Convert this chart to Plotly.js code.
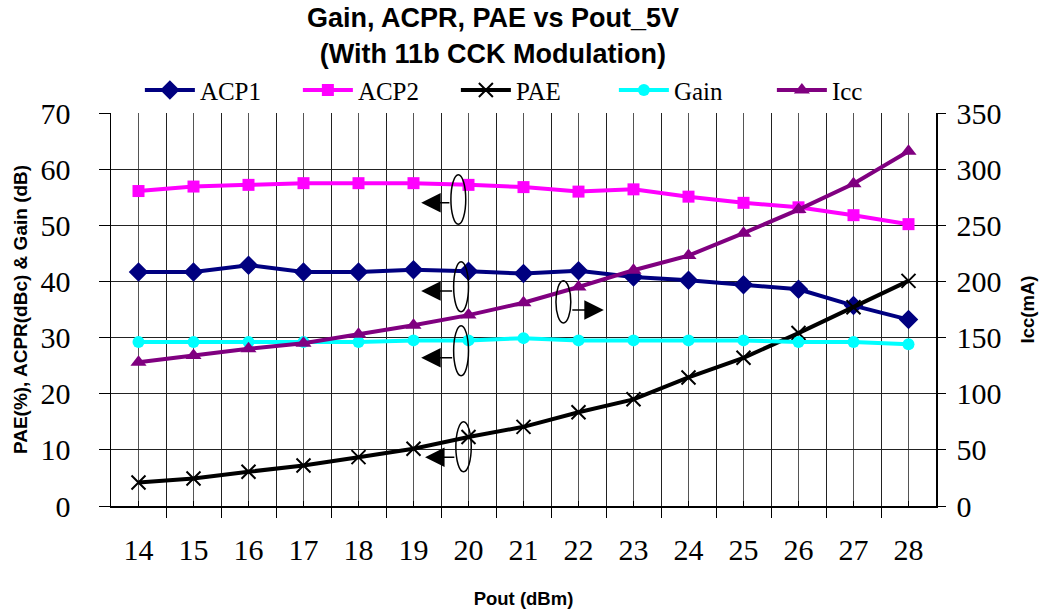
<!DOCTYPE html>
<html>
<head>
<meta charset="utf-8">
<script src="https://cdn.plot.ly/plotly-3.0.1.min.js"></script>
<style>html,body{margin:0;padding:0;background:#fff;}#chart{width:1047px;height:611px;}</style>
</head>
<body>
<div id="chart"></div>
<script>
// ---- data ----
var pout = [14, 15, 16, 17, 18, 19, 20, 21, 22, 23, 24, 25, 26, 27, 28];
var acp1 = [41.7, 41.7, 42.9, 41.7, 41.7, 42.1, 41.8, 41.4, 41.9, 40.8, 40.2, 39.4, 38.6, 35.7, 33.2];
var acp2 = [56.1, 56.9, 57.2, 57.5, 57.5, 57.5, 57.2, 56.8, 56.0, 56.4, 55.1, 54.0, 53.2, 51.8, 50.2];
var pae  = [4.2, 4.9, 6.1, 7.2, 8.7, 10.2, 12.3, 14.1, 16.7, 19.0, 22.9, 26.4, 30.8, 35.4, 40.1];
var gain = [29.2, 29.2, 29.2, 29.2, 29.2, 29.5, 29.5, 29.9, 29.5, 29.5, 29.5, 29.5, 29.2, 29.2, 28.8];
var icc  = [128, 134, 140, 145, 153, 161, 170, 181, 195, 210, 223, 243, 264, 287, 316];
var seriesNames = ['ACP1', 'ACP2', 'PAE', 'Gain', 'Icc'];
var xTickLabels = ['14','15','16','17','18','19','20','21','22','23','24','25','26','27','28'];
var boundaryTicks = [13.5,14.5,15.5,16.5,17.5,18.5,19.5,20.5,21.5,22.5,23.5,24.5,25.5,26.5,27.5,28.5];

var serif = 'Liberation Serif, Times New Roman, serif';
var sans = 'Liberation Sans, Arial, sans-serif';

var traces = [
  {x: pout, y: acp1, name: seriesNames[0], type: 'scatter', mode: 'lines+markers',
   line: {color: '#000080', width: 4}, marker: {symbol: 'diamond', size: 15, color: '#000080'}},
  {x: pout, y: acp2, name: seriesNames[1], type: 'scatter', mode: 'lines+markers',
   line: {color: '#FF00FF', width: 4}, marker: {symbol: 'square', size: 12, color: '#FF00FF'}},
  {x: pout, y: pae, name: seriesNames[2], type: 'scatter', mode: 'lines+markers',
   line: {color: '#000000', width: 4}, marker: {symbol: 'x-thin', size: 14, color: '#000000', line: {width: 2, color: '#000000'}}},
  {x: pout, y: gain, name: seriesNames[3], type: 'scatter', mode: 'lines+markers',
   line: {color: '#00FFFF', width: 4}, marker: {symbol: 'circle', size: 12, color: '#00FFFF'}},
  {x: pout, y: icc, name: seriesNames[4], type: 'scatter', mode: 'lines+markers', yaxis: 'y2',
   line: {color: '#800080', width: 4}, marker: {symbol: 'triangle-up', size: 14, color: '#800080'}}
];

// annotation ellipses (style/position only)
var ellipses = [
  {x0: 19.68, x1: 19.95, y0: 50.2, y1: 59.0, yref: 'y'},
  {x0: 19.73, x1: 20.0, y0: 34.6, y1: 43.5, yref: 'y'},
  {x0: 19.73, x1: 20.0, y0: 23.2, y1: 32.1, yref: 'y'},
  {x0: 19.77, x1: 20.05, y0: 6.1, y1: 15.0, yref: 'y'},
  {x0: 21.59, x1: 21.86, y0: 163, y1: 200.5, yref: 'y2'}
];
var shapes = ellipses.map(function (e) {
  return {type: 'circle', xref: 'x', yref: e.yref, x0: e.x0, x1: e.x1, y0: e.y0, y1: e.y1,
          line: {color: '#000', width: 1.5}, fillcolor: 'rgba(0,0,0,0)'};
});
var arrows = [
  {tip: 19.14, tail: 19.68, y: 54.0, yref: 'y'},
  {tip: 19.14, tail: 19.73, y: 38.3, yref: 'y'},
  {tip: 19.14, tail: 19.73, y: 26.4, yref: 'y'},
  {tip: 19.21, tail: 19.77, y: 8.7, yref: 'y'},
  {tip: 22.46, tail: 21.86, y: 174.5, yref: 'y2'}
];
var annotations = arrows.map(function (a) {
  return {x: a.tip, y: a.y, xref: 'x', yref: a.yref, ax: a.tail, ay: a.y, axref: 'x', ayref: a.yref,
          text: '', showarrow: true, arrowhead: 2, arrowsize: 2.6, arrowwidth: 1.5, arrowcolor: '#000'};
});

var layout = {
  width: 1047, height: 611,
  paper_bgcolor: '#fff', plot_bgcolor: '#fff',
  margin: {l: 111, r: 111, t: 113, b: 105},
  showlegend: true,
  title: {
    text: '<b>Gain, ACPR, PAE vs Pout_5V<br>(With 11b CCK Modulation)</b>',
    font: {family: sans, size: 27, color: '#000'},
    x: 0.463, xanchor: 'center', xref: 'paper',
    y: 0.955, yanchor: 'top', yref: 'container'
  },
  legend: {
    orientation: 'h', x: 0.035, xanchor: 'left', y: 1.058, yanchor: 'middle',
    font: {family: serif, size: 25, color: '#000'},
    entrywidth: 93, entrywidthmode: 'pixels', itemwidth: 50,
    bgcolor: 'rgba(0,0,0,0)'
  },
  xaxis: {
    range: [13.5, 28.5], tickmode: 'array', tickvals: pout, ticktext: xTickLabels,
    ticks: 'inside', ticklen: 5, tickcolor: '#000', tickwidth: 1,
    showgrid: true, gridcolor: '#555', gridwidth: 1,
    showline: true, linecolor: '#000', linewidth: 1.5, zeroline: false,
    tickfont: {family: serif, size: 30, color: '#000'}, ticklabelstandoff: 16,
    minor: {tickmode: 'array', tickvals: boundaryTicks, ticks: 'outside', ticklen: 10,
            tickcolor: '#000', showgrid: true, gridcolor: '#222', gridwidth: 1},
    title: {text: '<b>Pout (dBm)</b>', font: {family: sans, size: 18.5, color: '#000'}, standoff: 27}
  },
  yaxis: {
    range: [0, 70], dtick: 10, tick0: 0,
    ticks: 'outside', ticklen: 11, tickcolor: '#000',
    showgrid: true, gridcolor: '#222', gridwidth: 1,
    showline: true, linecolor: '#000', linewidth: 1.5, zeroline: false,
    tickfont: {family: serif, size: 30, color: '#000'}, ticklabelstandoff: 22,
    title: {text: '<b>PAE(%), ACPR(dBc) & Gain (dB)</b>', font: {family: sans, size: 19, color: '#000'}, standoff: 8}
  },
  yaxis2: {
    range: [0, 350], dtick: 50, tick0: 0, overlaying: 'y', side: 'right',
    ticks: 'outside', ticklen: 8, tickcolor: '#000',
    showgrid: false, showline: true, linecolor: '#000', linewidth: 1.5, zeroline: false,
    tickfont: {family: serif, size: 30, color: '#000'}, ticklabelstandoff: 5,
    title: {text: '<b>Icc(mA)</b>', font: {family: sans, size: 18.5, color: '#000'}, standoff: 20}
  },
  shapes: shapes,
  annotations: annotations
};

Plotly.newPlot('chart', traces, layout, {displayModeBar: false, staticPlot: true});
</script>
</body>
</html>
